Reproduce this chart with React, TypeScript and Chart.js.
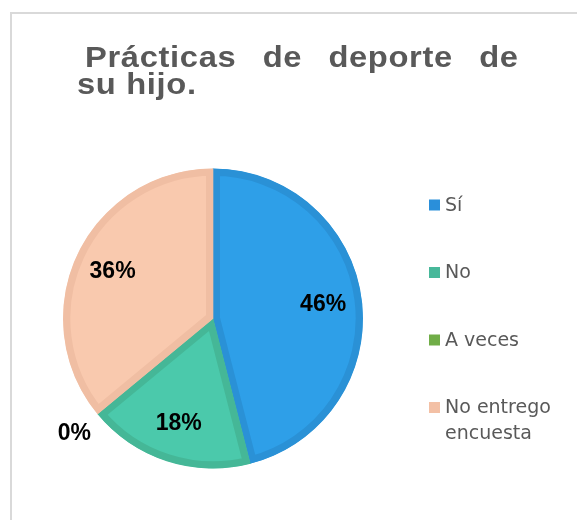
import React, { useEffect, useRef } from "react";
import { Chart, registerables } from "chart.js";

Chart.register(...registerables);

// ---- data ----
const categories = ["Sí", "No", "A veces", "No entrego encuesta"];
const percentages = [46, 18, 0, 36];
const titleLine1 = "Prácticas de deporte de";
const titleLine2 = "su hijo.";

// ---- styles ----
const fillColors = ["#2E9FE8", "#4BC9AB", "#76B04F", "#F9C9AE"];
const borderColors = ["#2A91D6", "#45B797", "#6A9E46", "#F0BEA3"];
const swatchColors = ["#2A8FDA", "#47B89A", "#70AD47", "#F3C0A5"];
const textGrey = "#595959";

const framePlugin = {
  id: "frame",
  beforeDraw(chart: any) {
    const ctx = chart.ctx;
    ctx.save();
    ctx.fillStyle = "#ffffff";
    ctx.fillRect(0, 0, chart.width, chart.height);
    ctx.strokeStyle = "#D9D9D9";
    ctx.lineWidth = 2;
    ctx.strokeRect(11, 13, chart.width + 50, chart.height + 50);
    ctx.restore();
  },
};

const titlePlugin = {
  id: "justTitle",
  afterDraw(chart: any) {
    const ctx = chart.ctx;
    ctx.save();
    ctx.font = "bold 30px 'Liberation Sans', Arial, sans-serif";
    ctx.fillStyle = textGrey;
    ctx.textBaseline = "alphabetic";
    ctx.textAlign = "left";
    const ls = 0.6;
    const sx = 1.09;
    (ctx as any).letterSpacing = ls + "px";
    const put = (w: string, x: number, y: number) => {
      ctx.save();
      ctx.translate(x, y);
      ctx.scale(sx, 1);
      ctx.fillText(w, 0, 0);
      ctx.restore();
    };
    const words = titleLine1.split(" ");
    const x0 = 85;
    const x1 = 518;
    const widths = words.map((w) => (ctx.measureText(w).width - ls) * sx);
    const total = widths.reduce((a, b) => a + b, 0);
    const gap = (x1 - x0 - total) / (words.length - 1);
    let x = x0;
    words.forEach((w, i) => {
      put(w, x, 66.5);
      x += widths[i] + gap;
    });
    put(titleLine2, 77, 94);
    ctx.restore();
  },
};

const labelPlugin = {
  id: "pctLabels",
  afterDatasetsDraw(chart: any) {
    const ctx = chart.ctx;
    const meta = chart.getDatasetMeta(0);
    const values = chart.data.datasets[0].data as number[];
    ctx.save();
    ctx.font = "bold 23px 'Liberation Sans', Arial, sans-serif";
    ctx.fillStyle = "#000000";
    ctx.textAlign = "center";
    ctx.textBaseline = "middle";
    meta.data.forEach((arc: any, i: number) => {
      const p = arc.getProps(["x", "y", "startAngle", "endAngle", "outerRadius"], true);
      const mid = (p.startAngle + p.endAngle) / 2;
      const r = values[i] > 0 ? p.outerRadius * 0.74 : p.outerRadius * 1.2;
      const lx = p.x + Math.cos(mid) * r;
      const ly = p.y + Math.sin(mid) * r;
      ctx.fillText(values[i] + "%", lx, ly);
    });
    ctx.restore();
  },
};

const legendPlugin = {
  id: "sideLegend",
  afterDraw(chart: any) {
    const ctx = chart.ctx;
    const labels = chart.data.labels as string[];
    ctx.save();
    ctx.font = "19px 'DejaVu Sans', sans-serif";
    ctx.textBaseline = "alphabetic";
    ctx.textAlign = "left";
    const boxX = 429;
    const textX = 445;
    const maxW = 122;
    const firstBase = 210.5;
    const step = 67.5;
    const lineH = 26;
    labels.forEach((lab, i) => {
      const base = firstBase + i * step;
      ctx.fillStyle = swatchColors[i];
      ctx.fillRect(boxX, base - 11, 11, 11);
      const words = lab.split(" ");
      const lines: string[] = [];
      let cur = "";
      words.forEach((w) => {
        const t = cur ? cur + " " + w : w;
        if (ctx.measureText(t).width > maxW && cur) {
          lines.push(cur);
          cur = w;
        } else {
          cur = t;
        }
      });
      if (cur) lines.push(cur);
      ctx.fillStyle = textGrey;
      lines.forEach((ln, j) => ctx.fillText(ln, textX, base + j * lineH));
    });
    ctx.restore();
  },
};

export default function App() {
  const ref = useRef<HTMLCanvasElement>(null);
  useEffect(() => {
    if (!ref.current) return;
    const chart = new Chart(ref.current, {
      type: "pie",
      data: {
        labels: categories,
        datasets: [
          {
            data: percentages,
            backgroundColor: fillColors,
            borderColor: borderColors,
            borderWidth: 7,
            borderAlign: "inner",
          } as any,
        ],
      },
      options: {
        responsive: false,
        animation: false,
        devicePixelRatio: 1,
        layout: { padding: { left: 63, right: 214, top: 168, bottom: 51 } },
        plugins: {
          legend: { display: false },
          title: { display: false },
          tooltip: { enabled: false },
        },
      },
      plugins: [framePlugin, titlePlugin, labelPlugin, legendPlugin],
    });
    return () => chart.destroy();
  }, []);
  return (
    <div style={{ position: "absolute", left: 0, top: 0, width: 577, height: 520 }}>
      <canvas ref={ref} width={577} height={520} style={{ display: "block" }} />
    </div>
  );
}
